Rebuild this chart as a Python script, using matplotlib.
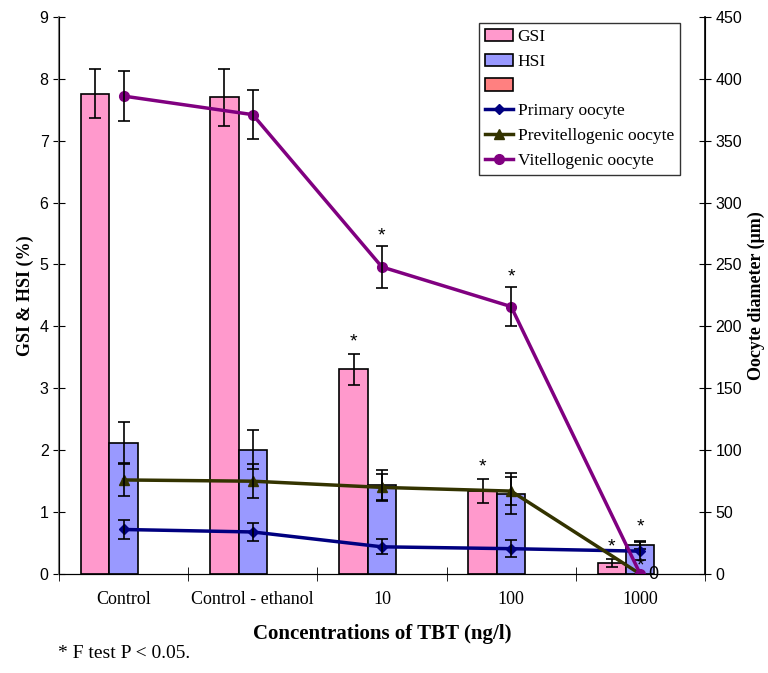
import matplotlib
matplotlib.use("Agg")
import matplotlib.pyplot as plt
from matplotlib.patches import Patch
import numpy as np

categories = ["Control", "Control - ethanol", "10", "100", "1000"]

gsi = [7.76, 7.70, 3.31, 1.34, 0.18]
gsi_err = [0.39, 0.46, 0.25, 0.20, 0.07]
hsi = [2.12, 2.01, 1.44, 1.30, 0.47]
hsi_err = [0.33, 0.31, 0.24, 0.33, 0.06]
blank = [0, 0, 0, 0, 0]

primary = [36, 34, 22, 20.5, 18.5]
primary_err = [8, 7, 6, 7, 7]
previt = [76, 75, 70, 67, 0]
previt_err = [13, 13.5, 11, 11, 0]
vitello = [386, 371, 248, 216, 0]
vitello_err = [20, 20, 17, 16, 0]

serif = "Liberation Serif"
sans = "Liberation Sans"

fig = plt.figure(figsize=(7.68, 6.73), dpi=100)
ax = fig.add_axes([0.0768, 0.147, 0.841, 0.828])
ax2 = ax.twinx()

x = np.arange(len(categories))
w = 0.22
ekw = dict(ecolor="black", elinewidth=1.2, capsize=4, capthick=1.2)

b1 = ax.bar(x - w, gsi, w, color="#FF99CC", edgecolor="black", linewidth=1.2,
            yerr=gsi_err, error_kw=ekw)
b2 = ax.bar(x, hsi, w, color="#9999FF", edgecolor="black", linewidth=1.2,
            yerr=hsi_err, error_kw=ekw)
ax.bar(x + w, blank, w, color="#FF8080", linewidth=0)
b3 = Patch(facecolor="#FF8080", edgecolor="black", linewidth=1.2)

l1, = ax2.plot(x, primary, color="#000080", marker="D", markersize=5, lw=2.5)
ax2.errorbar(x, primary, yerr=primary_err, fmt="none", **ekw)
l2, = ax2.plot(x, previt, color="#333300", marker="^", markersize=7, lw=2.5)
ax2.errorbar(x[:4], previt[:4], yerr=previt_err[:4], fmt="none", **ekw)
l3, = ax2.plot(x, vitello, color="#800080", marker="o", markersize=7, lw=2.5)
ax2.errorbar(x[:4], vitello[:4], yerr=vitello_err[:4], fmt="none", **ekw)

# significance stars
star = dict(ha="center", va="bottom", fontsize=14, fontfamily=sans)
for i in [2, 3, 4]:
    ax.text(x[i] - w, gsi[i] + gsi_err[i] + 0.05, "*", **star)
for i in [2, 3]:
    ax2.text(x[i], vitello[i] + vitello_err[i] + 1, "*", **star)
ax2.text(x[4], 31, "*", **star)
ax2.text(x[4], 0, "*", **star)
ax2.text(x[4] + 0.06, 0, "0", ha="left", va="center", fontsize=13, fontfamily=sans)

ax.set_xlim(-0.5, 4.5)
ax.set_ylim(0, 9)
ax2.set_ylim(0, 450)
ax.set_yticks(np.arange(0, 10, 1))
ax2.set_yticks(np.arange(0, 451, 50))
ax.set_xticks(x)
ax.set_xticklabels(categories, fontfamily=serif, fontsize=13)
ax.set_xticks(np.arange(-0.5, 5, 1), minor=True)
ax.tick_params(axis="x", which="major", length=0, pad=12)
ax.tick_params(axis="x", which="minor", direction="inout", length=10)
ax.tick_params(axis="y", direction="inout", length=8, labelsize=11.5)
ax2.tick_params(axis="y", direction="inout", length=8, labelsize=11.5)
for lab in ax.get_yticklabels() + ax2.get_yticklabels():
    lab.set_fontfamily(sans)

for a in (ax, ax2):
    a.spines["top"].set_visible(False)
ax.spines["left"].set_color("#808080")
ax.spines["left"].set_linewidth(1.5)
ax2.spines["right"].set_linewidth(1.2)

ax.set_ylabel("GSI & HSI (%)", fontfamily=serif, fontweight="bold", fontsize=13)
ax2.set_ylabel("Oocyte diameter (\u03bcm)", fontfamily=serif, fontweight="bold", fontsize=13)
ax.set_xlabel("Concentrations of TBT (ng/l)", fontfamily=serif, fontweight="bold",
              fontsize=15, labelpad=12)

leg = ax2.legend([b1, b2, b3, l1, l2, l3],
                 ["GSI", "HSI", "", "Primary oocyte", "Previtellogenic oocyte",
                  "Vitellogenic oocyte"],
                 loc="upper right", bbox_to_anchor=(0.975, 1.005),
                 prop={"family": serif, "size": 12.5}, frameon=True, fancybox=False,
                 edgecolor="black", handlelength=1.6, handletextpad=0.3,
                 labelspacing=0.5, borderpad=0.35)
leg.get_frame().set_linewidth(1.0)

fig.text(0.075, 0.016, "* F test P < 0.05.", fontfamily=serif, fontsize=14,
         ha="left", va="bottom")

fig.savefig("out.png", dpi=100)
